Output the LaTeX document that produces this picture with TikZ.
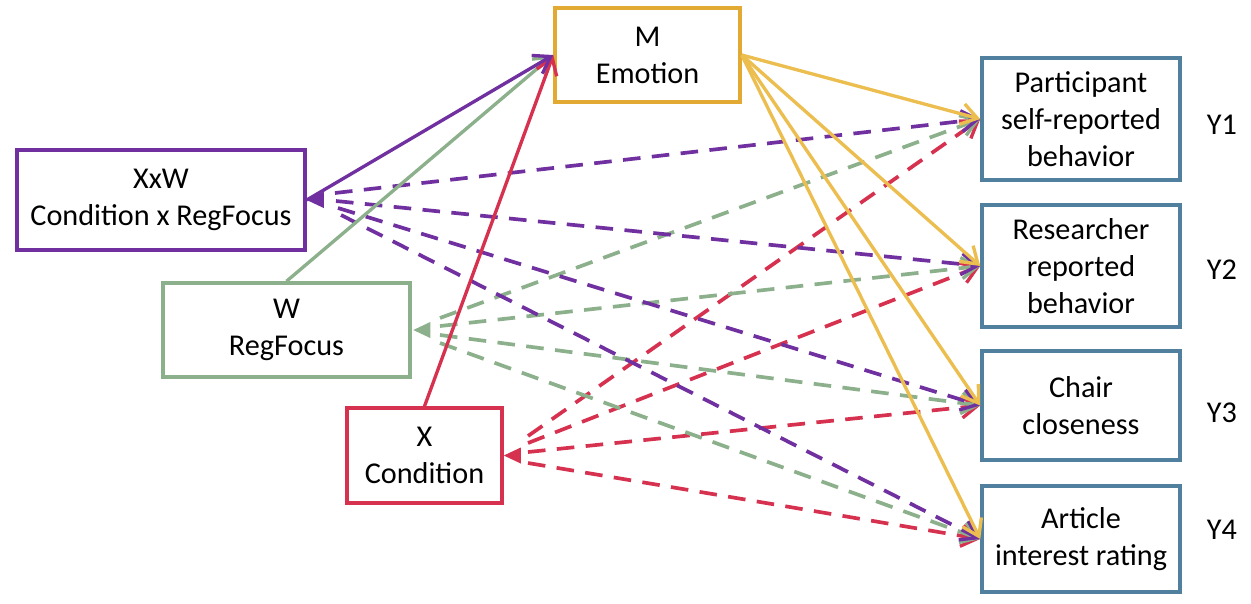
\documentclass[tikz,border=0pt]{standalone}
\usepackage{fontspec}
\setmainfont{Carlito}
\usetikzlibrary{arrows.meta}
\definecolor{cM}{RGB}{226,170,50}
\definecolor{cMa}{RGB}{236,190,80}
\definecolor{cP}{RGB}{112,48,160}
\definecolor{cG}{RGB}{140,176,140}
\definecolor{cR}{RGB}{214,50,80}
\definecolor{cB}{RGB}{80,128,158}
\newcommand\pxu{0.02cm}
\tikzset{
  box/.style={draw, line width=2pt, align=center, inner sep=0pt, fill=white,
    font=\fontsize{17.2}{21}\selectfont},
  conn/.style={line width=1.9pt, -{Straight Barb[length=9pt,width=12pt,line width=1.9pt]}},
  dsh/.style={conn, line width=2.1pt, dash pattern=on 10pt off 6.5pt},
  ylab/.style={font=\fontsize{17.2}{21}\selectfont, inner sep=0pt},
}
\begin{document}
\begin{tikzpicture}[x=0.02cm,y=-0.02cm]
\useasboundingbox (0,0) rectangle (1251,603);
% boxes
\node[box, draw=cM, minimum width=185*\pxu, minimum height=94*\pxu] (M) at (647.5,55) {M\\Emotion};
\node[box, draw=cP, minimum width=288*\pxu, minimum height=100*\pxu] (XW) at (161,200) {XxW\\Condition x RegFocus};
\node[box, draw=cG, minimum width=247*\pxu, minimum height=94*\pxu] (W) at (286.5,330) {W\\RegFocus};
\node[box, draw=cR, minimum width=155*\pxu, minimum height=95*\pxu] (X) at (424.5,455.5) {X\\Condition};
\node[box, draw=cB, minimum width=198*\pxu, minimum height=122*\pxu] (Y1) at (1081,119) {Participant\\self-reported\\behavior};
\node[box, draw=cB, minimum width=198*\pxu, minimum height=122*\pxu] (Y2) at (1081,266) {Researcher\\reported\\behavior};
\node[box, draw=cB, minimum width=198*\pxu, minimum height=109*\pxu] (Y3) at (1081,405.5) {Chair\\closeness};
\node[box, draw=cB, minimum width=198*\pxu, minimum height=106*\pxu] (Y4) at (1081,539) {Article\\interest rating};
\node[ylab] (L1) at (1222,125) {Y1};
\node[ylab] (L2) at (1222,270) {Y2};
\node[ylab] (L3) at (1222,413) {Y3};
\node[ylab] (L4) at (1222,530) {Y4};
% fan start points
\coordinate (p1) at (335,193); \coordinate (p2) at (336,201);
\coordinate (p3) at (338,208); \coordinate (p4) at (341,215);
\coordinate (g1) at (440,318); \coordinate (g2) at (440,326);
\coordinate (g3) at (440,335); \coordinate (g4) at (440,343);
\coordinate (r1) at (528,436); \coordinate (r2) at (528,443);
\coordinate (r3) at (528,452); \coordinate (r4) at (528,463);
% triangles
\fill[cP] (XW.east) -- ++(17,-8) -- ++(0,16) -- cycle;
\fill[cG] ([xshift=1.5*\pxu]W.east) -- ++(17,-8) -- ++(0,16) -- cycle;
\fill[cR] (X.east) -- ++(17,-8) -- ++(0,16) -- cycle;
% dashed fans
\draw[dsh, cR] (r1) -- (Y1.west);
\draw[dsh, cR] (r2) -- (Y2.west);
\draw[dsh, cR] (r3) -- (Y3.west);
\draw[dsh, cR] (r4) -- (Y4.west);
\draw[dsh, cG] (g1) -- (Y1.west);
\draw[dsh, cG] (g2) -- (Y2.west);
\draw[dsh, cG] (g3) -- (Y3.west);
\draw[dsh, cG] (g4) -- (Y4.west);
\draw[dsh, cP] (p1) -- (Y1.west);
\draw[dsh, cP] (p2) -- (Y2.west);
\draw[dsh, cP] (p3) -- (Y3.west);
\draw[dsh, cP] (p4) -- (Y4.west);
% solid to M
\draw[conn, cG] (W.north) -- (M.west);
\draw[conn, cR] (X.north) -- (M.west);
\draw[conn, cP] (XW.east) -- (M.west);
% M to Y
\draw[conn, cMa] (M.east) -- (Y1.west);
\draw[conn, cMa] (M.east) -- (Y2.west);
\draw[conn, cMa] (M.east) -- (Y3.west);
\draw[conn, cMa] (M.east) -- (Y4.west);
\end{tikzpicture}
\end{document}
